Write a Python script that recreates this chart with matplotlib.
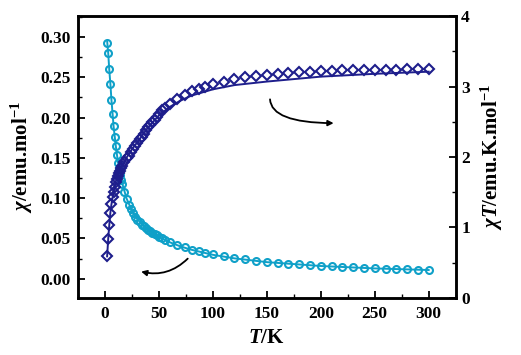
import matplotlib
matplotlib.use("Agg")
import matplotlib.pyplot as plt
from matplotlib.ticker import MultipleLocator

# === data ===
T = [2, 3, 4, 5, 6, 7, 8, 9, 10, 11, 12, 13, 14, 15, 16, 18, 20, 22, 24, 26, 28, 30,
     32, 34, 36, 38, 40, 42, 44, 46, 48, 50, 53, 56, 60, 67, 74, 81, 87, 93, 100,
     110, 120, 130, 140, 150, 160, 170, 180, 190, 200, 210, 220, 230, 240, 250,
     260, 270, 280, 290, 300]
chi = [0.293, 0.280, 0.260, 0.242, 0.222, 0.204, 0.189, 0.176, 0.165, 0.154, 0.144,
       0.136, 0.129, 0.123, 0.117, 0.107, 0.099, 0.092, 0.086, 0.081, 0.077, 0.073,
       0.070, 0.067, 0.065, 0.063, 0.061, 0.059, 0.057, 0.056, 0.054, 0.052, 0.050,
       0.048, 0.046, 0.042, 0.039, 0.036, 0.034, 0.032, 0.0303,
       0.0279, 0.0258, 0.0241, 0.0225, 0.0211, 0.0199, 0.0188, 0.0178, 0.0169,
       0.0161, 0.0153, 0.0147, 0.0140, 0.0135, 0.0130, 0.0125, 0.0120, 0.0116,
       0.0112, 0.0108]
chiT = [0.59, 0.84, 1.035, 1.21, 1.33, 1.43, 1.51, 1.58, 1.65, 1.69, 1.73, 1.77, 1.80,
        1.84, 1.87, 1.93, 1.98, 2.02, 2.07, 2.11, 2.16, 2.20, 2.25, 2.29, 2.33, 2.38,
        2.42, 2.46, 2.50, 2.53, 2.57, 2.61, 2.66, 2.70, 2.75, 2.82, 2.88, 2.93, 2.97,
        3.00, 3.03, 3.07, 3.10, 3.13, 3.15, 3.17, 3.18, 3.19, 3.20, 3.21, 3.22, 3.22,
        3.23, 3.23, 3.24, 3.24, 3.24, 3.24, 3.25, 3.25, 3.25]

# fit curves
T_fit = [2, 3, 4, 5, 6, 8, 10, 12, 15, 20, 25, 30, 40, 50, 60, 70, 80, 100, 120,
         150, 200, 250, 300]
chi_fit = [0.295, 0.280, 0.259, 0.242, 0.222, 0.189, 0.165, 0.145, 0.123, 0.0995,
           0.0844, 0.0737, 0.0605, 0.0518, 0.0452, 0.0400, 0.0359, 0.0296, 0.0252,
           0.0205, 0.0157, 0.0127, 0.0107]
chiT_fit = [0.59, 0.84, 1.035, 1.21, 1.33, 1.51, 1.65, 1.74, 1.85, 1.99, 2.11, 2.21,
            2.42, 2.59, 2.71, 2.80, 2.87, 2.96, 3.02, 3.07, 3.14, 3.18, 3.21]

CYAN = "#0fa0c8"
NAVY = "#1e1e8c"

plt.rcParams["font.family"] = "Liberation Serif"
plt.rcParams["font.weight"] = "bold"
plt.rcParams["axes.labelweight"] = "bold"
plt.rcParams["mathtext.fontset"] = "custom"
plt.rcParams["mathtext.rm"] = "Liberation Serif:bold"
plt.rcParams["mathtext.it"] = "Liberation Serif:italic:bold"
plt.rcParams["mathtext.bf"] = "Liberation Serif:bold"

fig = plt.figure(figsize=(5.21, 3.55), dpi=100)
ax = fig.add_axes([0.1497, 0.1606, 0.7249, 0.7943])
ax2 = ax.twinx()

ax.plot(T_fit, chi_fit, color=CYAN, lw=1.4, zorder=2)
ax.plot(T, chi, "o", mfc="none", mec=CYAN, ms=5.0, mew=1.5, zorder=3)
ax2.plot(T_fit, chiT_fit, color=NAVY, lw=1.4, zorder=2)
ax2.plot(T, chiT, "D", mfc="none", mec=NAVY, ms=5.0, mew=1.5, zorder=3)

ax.set_xlim(-25, 325)
ax.set_ylim(-0.024, 0.326)
ax2.set_ylim(0, 4)

ax.xaxis.set_major_locator(MultipleLocator(50))
ax.xaxis.set_minor_locator(MultipleLocator(25))
ax.yaxis.set_major_locator(MultipleLocator(0.05))
ax.yaxis.set_minor_locator(MultipleLocator(0.025))
ax2.yaxis.set_major_locator(MultipleLocator(1))
ax2.yaxis.set_minor_locator(MultipleLocator(0.5))
ax.yaxis.set_major_formatter(plt.FormatStrFormatter("%.2f"))

for a in (ax, ax2):
    a.tick_params(which="major", direction="in", length=5, width=1.3, labelsize=12.5)
    a.tick_params(which="minor", direction="in", length=3, width=1.0)
    for s in a.spines.values():
        s.set_linewidth(1.8)
    for lbl in a.get_xticklabels() + a.get_yticklabels():
        lbl.set_fontweight("bold")
ax.tick_params(axis="x", pad=6)
ax.tick_params(axis="y", pad=5)
ax2.tick_params(axis="y", pad=4)

ax.set_xlabel(r"$T$/K", fontsize=15, labelpad=4)
ax.set_ylabel(r"$\chi$/emu.mol$^{-1}$", fontsize=15, labelpad=4)
ax2.set_ylabel(r"$\chi T$/emu.K.mol$^{-1}$", fontsize=15, labelpad=6)

# curved arrows pointing to the axes
ax.annotate("", xy=(31, 0.0096), xytext=(78.5, 0.0273),
            arrowprops=dict(arrowstyle="-|>", lw=1.3, color="black",
                            mutation_scale=8, connectionstyle="arc3,rad=-0.3"))
ax.annotate("", xy=(214.5, 0.193), xytext=(153, 0.226),
            arrowprops=dict(arrowstyle="-|>", lw=1.3, color="black",
                            mutation_scale=8, connectionstyle="angle3,angleA=-95,angleB=0"))

fig.savefig("out.png", dpi=100)
plt.close(fig)
